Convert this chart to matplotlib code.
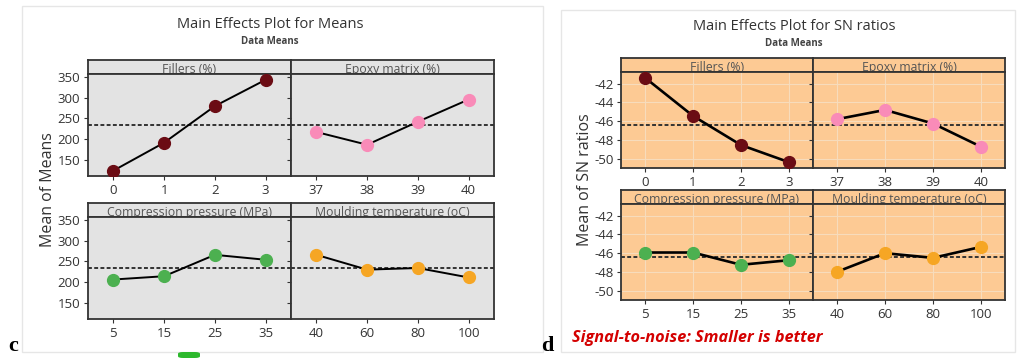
import matplotlib
matplotlib.use('Agg')
from matplotlib import pyplot as plt
from matplotlib.patches import Rectangle, FancyBboxPatch

# factor names and levels
factors = ['Fillers (%)', 'Epoxy matrix (%)', 'Compression pressure (MPa)', 'Moulding temperature (oC)']
levels = [['0', '1', '2', '3'], ['37', '38', '39', '40'], ['5', '15', '25', '35'], ['40', '60', '80', '100']]

# means of means
means_fillers = [123, 191, 280, 344]
means_epoxy = [217, 186, 242, 296]
means_pressure = [206, 214, 266, 254]
means_temp = [266, 230, 234, 211]
means_overall = 234.6

# means of SN ratios
sn_fillers = [-41.36, -45.44, -48.55, -50.38]
sn_epoxy = [-45.79, -44.80, -46.25, -48.73]
sn_pressure = [-45.93, -45.93, -47.24, -46.75]
sn_temp = [-47.99, -46.00, -46.50, -45.33]
sn_overall = -46.43

point_colors = ['#6b0c14', '#f98bb8', '#4cb050', '#f6a624']

W, H = 1020, 358
fig = plt.figure(figsize=(W / 100, H / 100), dpi=100)
plt.rcParams['font.family'] = ['Open Sans', 'DejaVu Sans']


def px(x, y, w, h):
    return [x / W, 1 - (y + h) / H, w / W, h / H]


def panel_box(x, y, w, h):
    fig.patches.append(Rectangle((x / W, 1 - (y + h) / H), w / W, h / H,
                                 transform=fig.transFigure, facecolor='white',
                                 edgecolor='#e6e6e6', lw=1, zorder=-5))


def draw_panel(x0, col_w, rows, strip_h, plot_h, data, overall, ylim, yticks,
               bg, grid, lw):
    for i, vals in enumerate(data):
        r, c = divmod(i, 2)
        x = x0 + c * col_w
        ys, yp = rows[r], rows[r] + strip_h
        st = fig.add_axes(px(x, ys, col_w, strip_h))
        st.set_facecolor(bg)
        st.set_xticks([])
        st.set_yticks([])
        for s in st.spines.values():
            s.set_linewidth(1.3)
            s.set_color('#333333')
        st.text(0.5, 0.3, factors[i], ha='center', va='center', fontsize=8.8,
                color='#555555', transform=st.transAxes)

        ax = fig.add_axes(px(x, yp, col_w, plot_h))
        ax.set_facecolor(bg)
        pos = range(len(vals))
        if grid:
            ax.grid(True, color='#f7dcbc', lw=0.8)
            ax.set_axisbelow(True)
        ax.axhline(overall, color='#333333', lw=1.4, ls=(0, (2, 1.2)), zorder=2)
        ax.plot(pos, vals, color='black', lw=lw, zorder=3)
        ax.plot(pos, vals, 'o', color=point_colors[i], ms=8.5, zorder=4)
        ax.set_xlim(-0.5, 3.5)
        ax.set_ylim(*ylim)
        ax.set_xticks(list(pos))
        ax.set_xticklabels(levels[i])
        ax.set_yticks(yticks)
        if c == 0:
            ax.set_yticklabels([str(t) for t in yticks])
        else:
            ax.tick_params(axis='y', length=0, labelleft=False)
        ax.tick_params(labelsize=9.5, colors='#333333', length=3, width=0.8, pad=2.5)
        for s in ax.spines.values():
            s.set_linewidth(1.3)
            s.set_color('#333333')


# left chart: means
panel_box(22, 6, 521, 346)
fig.text(270 / W, 1 - 24 / H, 'Main Effects Plot for Means', ha='center', va='center',
         fontsize=10.5, color='#333333')
fig.text(270 / W, 1 - 41 / H, 'Data Means', ha='center', va='center', fontsize=7,
         fontweight='bold', color='#444444')
draw_panel(88, 203, [60, 203], 14, 102,
           [means_fillers, means_epoxy, means_pressure, means_temp], means_overall,
           (110, 358), [150, 200, 250, 300, 350], '#e3e3e3', False, 1.4)
fig.text(48 / W, 1 - 190 / H, 'Mean of Means', rotation=90, ha='center', va='center',
         fontsize=11.5, color='#333333')

# right chart: SN ratios
panel_box(561, 10, 454, 342)
fig.text(794 / W, 1 - 27 / H, 'Main Effects Plot for SN ratios', ha='center', va='center',
         fontsize=10.5, color='#333333')
fig.text(794 / W, 1 - 43 / H, 'Data Means', ha='center', va='center', fontsize=7,
         fontweight='bold', color='#444444')
draw_panel(621, 192, [58, 190], 14, 96,
           [sn_fillers, sn_epoxy, sn_pressure, sn_temp], sn_overall,
           (-51.0, -40.75), [-42, -44, -46, -48, -50], '#fdca94', True, 1.9)
fig.text(585 / W, 1 - 180 / H, 'Mean of SN ratios', rotation=90, ha='center', va='center',
         fontsize=11.5, color='#333333')

fig.text(572 / W, 1 - 338 / H, 'Signal-to-noise: Smaller is better', ha='left', va='center',
         fontsize=11.7, fontweight='bold', style='italic', color='#d40000')

# panel letters
fig.text(8 / W, 1 - 346 / H, 'c', ha='left', va='center', fontsize=16, fontweight='bold',
         family='Liberation Serif')
fig.text(541 / W, 1 - 346 / H, 'd', ha='left', va='center', fontsize=16, fontweight='bold',
         family='Liberation Serif')

# green tab at bottom edge
fig.patches.append(FancyBboxPatch((178 / W, 0), 22 / W, 6 / H,
                                  boxstyle='round,pad=0,rounding_size=0.005',
                                  transform=fig.transFigure, facecolor='#2db82d',
                                  edgecolor='none'))

fig.savefig('out.png', dpi=100)
